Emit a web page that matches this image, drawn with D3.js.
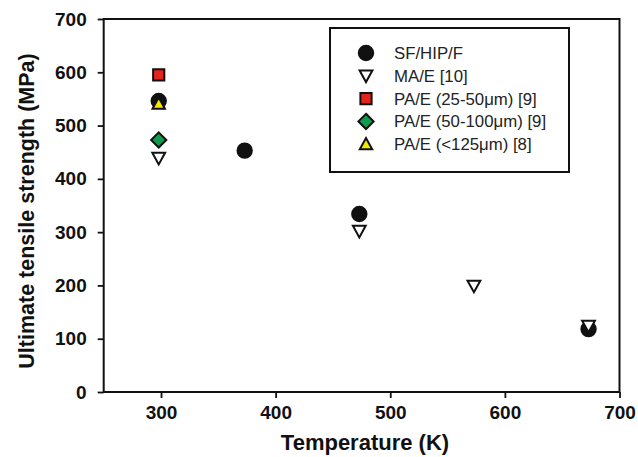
<!DOCTYPE html>
<html><head><meta charset="utf-8">
<script src="https://cdn.jsdelivr.net/npm/d3@7"></script>
<style>body{margin:0;background:#fff}svg{display:block}</style>
</head><body>
<svg id="c" width="638" height="457"></svg>
<script>
const xTicks = [300, 400, 500, 600, 700];
const yTicks = [0, 100, 200, 300, 400, 500, 600, 700];
const seriesNames = ["SF/HIP/F", "MA/E [10]", "PA/E (25-50μm) [9]", "PA/E (50-100μm) [9]", "PA/E (<125μm) [8]"];
const sfTemp = [298, 373, 473, 673];
const sfUTS = [546, 453, 334, 118];
const maTemp = [298, 473, 573, 673];
const maUTS = [439, 302, 199, 124];
const pa1Temp = [298];
const pa1UTS = [595];
const pa2Temp = [298];
const pa2UTS = [473];
const pa3Temp = [298];
const pa3UTS = [541];

const styles = [
  {shape:"circle", fill:"#111", stroke:"#111"},
  {shape:"tridown", fill:"#fff", stroke:"#111"},
  {shape:"square", fill:"#e3251b", stroke:"#111"},
  {shape:"diamond", fill:"#0f9a4c", stroke:"#111"},
  {shape:"triup", fill:"#f5e800", stroke:"#111"}
];
const series = [
  {t:sfTemp, v:sfUTS}, {t:maTemp, v:maUTS}, {t:pa1Temp, v:pa1UTS},
  {t:pa2Temp, v:pa2UTS}, {t:pa3Temp, v:pa3UTS}
];

const svg = d3.select("#c");
const L = 103.7, R = 619.5, T = 19, B = 392;
const x = d3.scaleLinear().domain([250, 700]).range([L, R]);
const y = d3.scaleLinear().domain([0, 700]).range([B, T]);
const font = "'Liberation Sans', Arial, Helvetica, sans-serif";

function shapePath(s) {
  switch (s) {
    case "circle": { const r = 7.2; return `M${-r},0A${r},${r} 0 1,0 ${r},0A${r},${r} 0 1,0 ${-r},0Z`; }
    case "square": { const h = 5.6; return `M${-h},${-h}H${h}V${h}H${-h}Z`; }
    case "diamond": { const h = 7.6; return `M0,${-h}L${h},0L0,${h}L${-h},0Z`; }
    case "tridown": { const w = 6.4, h = 5.8; return `M${-w},${-h+0.5}L${w},${-h+0.5}L0,${h+0.5}Z`; }
    case "triup": { const w = 6.2, h = 5.6; return `M${-w},${h-0.5}L${w},${h-0.5}L0,${-h-0.5}Z`; }
  }
}

// frame
svg.append("rect").attr("x", L).attr("y", T).attr("width", R - L).attr("height", B - T)
  .attr("fill", "none").attr("stroke", "#111").attr("stroke-width", 2);

// axes
const xAxis = svg.append("g").attr("transform", `translate(0,${B})`)
  .call(d3.axisBottom(x).tickValues(xTicks).tickSize(6).tickPadding(8));
const yAxis = svg.append("g").attr("transform", `translate(${L},0)`)
  .call(d3.axisLeft(y).tickValues(yTicks).tickSize(6).tickPadding(11));
[xAxis, yAxis].forEach(g => {
  g.select(".domain").remove();
  g.selectAll("line").attr("stroke", "#111").attr("stroke-width", 1.8);
  g.selectAll("text").attr("font-family", font).attr("font-weight", "bold")
    .attr("font-size", 19).attr("fill", "#111");
});

// axis titles
svg.append("text").attr("x", 365).attr("y", 450).attr("text-anchor", "middle")
  .attr("font-family", font).attr("font-weight", "bold").attr("font-size", 22).attr("fill", "#111")
  .text("Temperature (K)");
svg.append("text").attr("transform", `translate(34,211) rotate(-90)`)
  .attr("text-anchor", "middle")
  .attr("font-family", font).attr("font-weight", "bold").attr("font-size", 21.5).attr("fill", "#111")
  .text("Ultimate tensile strength (MPa)");

// data marks
series.forEach((s, i) => {
  svg.append("g").selectAll("path").data(s.t.map((t, j) => [t, s.v[j]])).join("path")
    .attr("transform", d => `translate(${x(d[0])},${y(d[1])})`)
    .attr("d", shapePath(styles[i].shape))
    .attr("fill", styles[i].fill).attr("stroke", styles[i].stroke).attr("stroke-width", 2);
});

// legend
const lg = svg.append("g");
lg.append("rect").attr("x", 330).attr("y", 28).attr("width", 239).attr("height", 144)
  .attr("fill", "#fff").attr("stroke", "#111").attr("stroke-width", 2);
seriesNames.forEach((n, i) => {
  const yy = 53 + i * 22.8;
  lg.append("path").attr("transform", `translate(366,${yy})`).attr("d", shapePath(styles[i].shape))
    .attr("fill", styles[i].fill).attr("stroke", styles[i].stroke).attr("stroke-width", 2);
  lg.append("text").attr("x", 394).attr("y", yy + 6)
    .attr("font-family", font).attr("font-size", 16.8).attr("fill", "#222").text(n);
});
</script>
</body></html>
